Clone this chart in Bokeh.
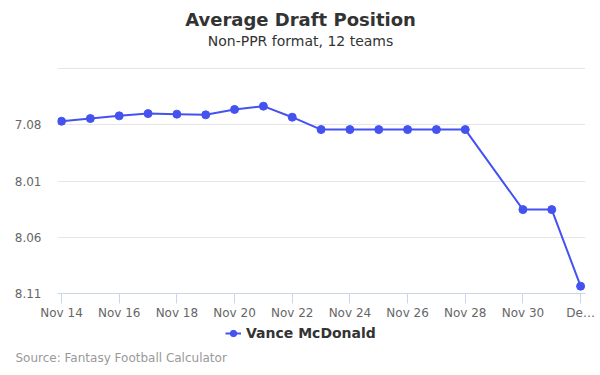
import pandas as pd
from bokeh.plotting import figure
from bokeh.layouts import column
from bokeh.models import Range1d, FixedTicker, Title, Legend, LegendItem, Label
from bokeh.embed import file_html
from bokeh.resources import INLINE

# ---- data ----
dates = ["2018-11-14", "2018-11-15", "2018-11-16", "2018-11-17", "2018-11-18",
         "2018-11-19", "2018-11-20", "2018-11-21", "2018-11-22", "2018-11-23",
         "2018-11-24", "2018-11-25", "2018-11-26", "2018-11-27", "2018-11-28",
         "2018-11-30", "2018-12-01", "2018-12-02"]
adp = [79.68, 79.44, 79.20, 79.00, 79.05, 79.11, 78.63, 78.34, 79.32, 80.42,
       80.42, 80.42, 80.42, 80.42, 80.42, 87.54, 87.54, 94.35]
series_name = "Vance McDonald"

y_ticks = [75, 80, 85, 90, 95]
y_labels = ["", "7.08", "8.01", "8.06", "8.11"]
x_tick_dates = ["2018-11-14", "2018-11-16", "2018-11-18", "2018-11-20", "2018-11-22",
                "2018-11-24", "2018-11-26", "2018-11-28", "2018-11-30", "2018-12-02"]
x_labels = ["Nov 14", "Nov 16", "Nov 18", "Nov 20", "Nov 22",
            "Nov 24", "Nov 26", "Nov 28", "Nov 30", "De\u2026"]

x = pd.to_datetime(dates)
xt = pd.to_datetime(x_tick_dates)
xt_ms = [float(t.value // 10**6) for t in xt]

day = pd.Timedelta(days=1)
x_start = x[0] - 0.14 * day
x_end = x[-1] + 0.17 * day

FONT = "DejaVu Sans"
COLOR = "#4452f0"
W = 596
BL, BR = 57, 11

# ---- title strip ----
tp = figure(width=W, height=60, output_backend="svg", toolbar_location=None,
            x_range=Range1d(BL, W - BR), y_range=Range1d(60, 0),
            min_border_left=BL, min_border_right=BR, min_border_top=0,
            min_border_bottom=0)
tp.axis.visible = False
tp.grid.visible = False
tp.outline_line_color = None
tp.add_layout(Label(x=300, y=19, text="Average Draft Position", text_align="center",
                    text_baseline="middle", text_font=FONT, text_font_size="18px",
                    text_font_style="bold", text_color="#333333"))
tp.add_layout(Label(x=300, y=40, text="Non-PPR format, 12 teams", text_align="center",
                    text_baseline="middle", text_font=FONT, text_font_size="14px",
                    text_color="#333333"))

# ---- main chart ----
p = figure(width=W, height=262, x_axis_type="datetime",
           output_backend="svg", toolbar_location=None,
           x_range=Range1d(x_start, x_end), y_range=Range1d(95, 74.9),
           min_border_left=BL, min_border_right=BR, min_border_top=7,
           min_border_bottom=28)
p.outline_line_color = None
p.background_fill_color = "white"
p.border_fill_color = "white"

line = p.line(x, adp, line_color=COLOR, line_width=2)
pts = p.scatter(x, adp, size=8, fill_color=COLOR, line_color=COLOR)

# y axis
p.yaxis.ticker = FixedTicker(ticks=y_ticks)
p.yaxis.major_label_overrides = {t: l for t, l in zip(y_ticks, y_labels)}
p.yaxis.axis_line_color = None
p.yaxis.major_tick_line_color = None
p.yaxis.minor_tick_line_color = None
p.yaxis.major_label_text_font = FONT
p.yaxis.major_label_text_font_size = "12px"
p.yaxis.major_label_text_color = "#666666"
p.yaxis.major_label_standoff = 10
p.ygrid.grid_line_color = "#e6e6e6"
p.ygrid.ticker = FixedTicker(ticks=y_ticks)

# x axis
p.xaxis.ticker = FixedTicker(ticks=xt_ms)
p.xaxis.major_label_overrides = {t: l for t, l in zip(xt_ms, x_labels)}
p.xaxis.axis_line_color = "#ccd6eb"
p.xaxis.major_tick_line_color = "#ccd6eb"
p.xaxis.major_tick_in = 0
p.xaxis.major_tick_out = 10
p.xaxis.minor_tick_line_color = None
p.xaxis.major_label_text_font = FONT
p.xaxis.major_label_text_font_size = "12px"
p.xaxis.major_label_text_color = "#666666"
p.xaxis.major_label_standoff = 2
p.xgrid.grid_line_color = None

# ---- legend strip ----
lg = figure(width=W, height=49, output_backend="svg", toolbar_location=None,
            x_range=Range1d(0, 1), y_range=Range1d(0, 1),
            min_border_left=BL, min_border_right=BR, min_border_top=0,
            min_border_bottom=28)
lg.axis.visible = False
lg.grid.visible = False
lg.outline_line_color = None
lg_line = lg.line(x, adp, line_color=COLOR, line_width=2)
lg_pts = lg.scatter(x, adp, size=8, fill_color=COLOR, line_color=COLOR)
legend = Legend(items=[LegendItem(label=series_name, renderers=[lg_line, lg_pts])],
                orientation="horizontal", location=(168, 0),
                label_text_font=FONT, label_text_font_size="14px",
                label_text_font_style="bold", label_text_color="#333333",
                border_line_color=None, background_fill_alpha=0,
                glyph_width=16, label_standoff=5, padding=0, margin=0)
lg.add_layout(legend, "center")
lg.add_layout(Title(text="Source: Fantasy Football Calculator", align="left",
                    text_font=FONT, text_font_size="12px", text_color="#999999",
                    text_font_style="normal", offset=-42), "below")

open("out.html", "w").write(file_html(column(tp, p, lg), INLINE))
